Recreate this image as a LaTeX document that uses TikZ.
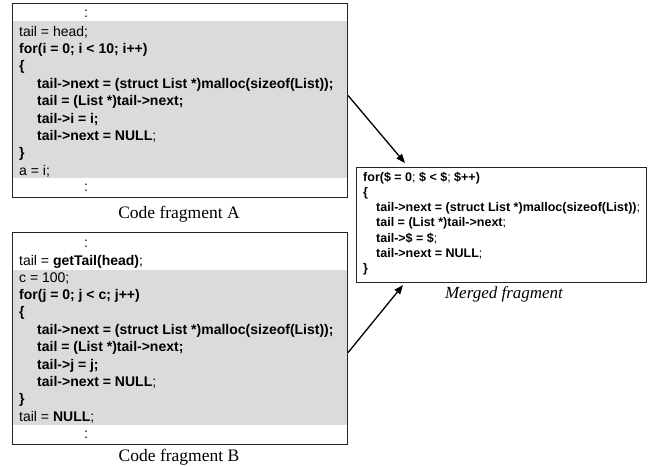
\documentclass[tikz,border=0pt]{standalone}
\usepackage{fontspec}
\setmainfont{Liberation Serif}
\setsansfont{Liberation Sans}
\usetikzlibrary{arrows.meta}
\newcommand{\bb}[1]{\textbf{#1}}
\begin{document}
\begin{tikzpicture}[x=1pt,y=-1pt,
  box/.style={draw=black!85,line width=1.1pt,inner sep=0pt,anchor=north west},
  band/.style={fill=black!14},
  code/.style={anchor=base west,inner sep=0pt,font=\sffamily\fontsize{14}{16}\selectfont},
  mcode/.style={anchor=base west,inner sep=0pt,font=\sffamily\fontsize{12.5}{14}\selectfont},
  captext/.style={anchor=base,inner sep=0pt,font=\fontsize{17.5}{20}\selectfont},
  arr/.style={-{Triangle[length=9pt,width=7pt]},line width=1.3pt}]
\useasboundingbox (0,0) rectangle (657,466);
% gray bands
\fill[band] (12,21) rectangle (347,178);
\fill[band] (12,270) rectangle (347,425);
% boxes
\node[box,minimum width=335pt,minimum height=194pt] (A) at (12,3) {};
\node[box,minimum width=335pt,minimum height=212pt] (B) at (12,232) {};
\node[box,minimum width=290pt,minimum height=115pt] (M) at (356,167) {};
% fragment A
\node[code] (a0) at (84,17) {:};
\node[code] (a1) at (19,36) {tail = head;};
\node[code] (a2) at (19,53.4) {\bb{for(i = 0; i < 10; i++)}};
\node[code] (a3) at (19,70.8) {\bb{\{}};
\node[code] (a4) at (37,88.2) {\bb{tail->next = (struct List *)malloc(sizeof(List));}};
\node[code] (a5) at (37,105.6) {\bb{tail = (List *)tail->next;}};
\node[code] (a6) at (37,123) {\bb{tail->i = i;}};
\node[code] (a7) at (37,140.4) {\bb{tail->next = NULL};};
\node[code] (a8) at (19,157.8) {\bb{\}}};
\node[code] (a9) at (19,175.2) {a = i;};
\node[code] (a10) at (84,191) {:};
\node[captext] (capA) at (179,218) {Code fragment A};
% fragment B
\node[code] (b0) at (84,247) {:};
\node[code] (b1) at (19,265) {tail = \bb{getTail(head)};};
\node[code] (b2) at (19,282) {c = 100;};
\node[code] (b3) at (19,299.4) {\bb{for(j = 0; j < c; j++)}};
\node[code] (b4) at (19,316.8) {\bb{\{}};
\node[code] (b5) at (37,334.2) {\bb{tail->next = (struct List *)malloc(sizeof(List));}};
\node[code] (b6) at (37,351.6) {\bb{tail = (List *)tail->next;}};
\node[code] (b7) at (37,369) {\bb{tail->j = j;}};
\node[code] (b8) at (37,386.4) {\bb{tail->next = NULL};};
\node[code] (b9) at (19,403.8) {\bb{\}}};
\node[code] (b10) at (19,421.2) {tail = \bb{NULL};};
\node[code] (b11) at (84,438) {:};
\node[captext] (capB) at (179,461) {Code fragment B};
% merged fragment
\node[mcode] (m1) at (363,181) {\bb{for(\$ = 0}; \bb{\$ < \$}; \bb{\$++)}};
\node[mcode] (m2) at (363,196.3) {\bb{\{}};
\node[mcode] (m3) at (376,211.6) {\bb{tail->next = (struct List *)malloc(sizeof(List))};};
\node[mcode] (m4) at (376,226.9) {\bb{tail = (List *)tail->next};};
\node[mcode] (m5) at (376,242.2) {\bb{tail->\$ = \$};};
\node[mcode] (m6) at (376,257.5) {\bb{tail->next = NULL};};
\node[mcode] (m7) at (363,272.8) {\bb{\}}};
\node[captext,font=\itshape\fontsize{17}{20}\selectfont] (capM) at (504,298) {Merged fragment};
% arrows
\draw[arr] ([yshift=5pt]A.east) -- ([xshift=49pt,yshift=4pt]M.north west);
\draw[arr] ([yshift=-14pt]B.east) -- ([xshift=47pt,yshift=-2pt]M.south west);
\end{tikzpicture}
\end{document}
